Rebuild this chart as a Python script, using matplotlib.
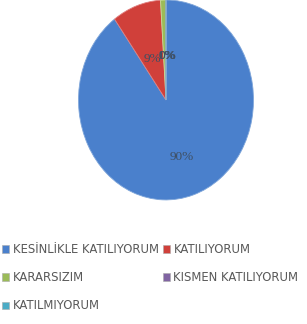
import matplotlib
matplotlib.use("Agg")
import numpy as np
import matplotlib.pyplot as plt
from matplotlib.patches import Patch

categories = [
    "KESİNLİKLE KATILIYORUM",
    "KATILIYORUM",
    "KARARSIZIM",
    "KISMEN KATILIYORUM",
    "KATILMIYORUM",
]
shares = [90, 9, 1, 0, 0]
colors = ["#4A80CC", "#D0403A", "#9BBB59", "#8064A2", "#4BACC6"]

fig = plt.figure(figsize=(3.07, 3.24), dpi=100)
ax = fig.add_axes([0.2557, 0.383, 0.570, 0.617])

wedges, texts, autotexts = ax.pie(
    shares,
    colors=colors,
    startangle=90,
    counterclock=False,
    autopct=lambda p: f"{p:.0f}%",
    pctdistance=0.6,
    wedgeprops=dict(linewidth=0.6, edgecolor="#7FA6DA"),
    textprops=dict(family="Liberation Serif", fontsize=9.5, color="#3F4F62"),
)
wedges[1].set_edgecolor("#E08080")
wedges[2].set_edgecolor("#C8DC98")

# small slices get their labels pulled in toward the centre
for w, t in zip(wedges[1:], autotexts[1:]):
    mid = np.deg2rad((w.theta1 + w.theta2) / 2)
    dx = 0.0 if w is wedges[1] else 0.02
    t.set_position((0.46 * np.cos(mid) + dx, 0.44 * np.sin(mid)))

ax.set_aspect("auto")
ax.set_xlim(-1.0, 1.0)
ax.set_ylim(-1.0, 1.0)

# legend, row-major order like the original
order = [0, 2, 4, 1, 3]
handles = [Patch(facecolor=colors[i], edgecolor="#AAAAAA", linewidth=0.4) for i in order]
labels = [categories[i] for i in order]
fig.legend(
    handles,
    labels,
    ncol=2,
    loc="upper left",
    bbox_to_anchor=(0.0, 0.257),
    frameon=False,
    prop=dict(family="DejaVu Sans", size=8.4),
    labelcolor="#595959",
    handlelength=0.6,
    handleheight=0.6,
    handletextpad=0.3,
    columnspacing=0.35,
    labelspacing=1.3,
    borderaxespad=0.0,
    borderpad=0.2,
)

fig.savefig("out.png", dpi=100)
